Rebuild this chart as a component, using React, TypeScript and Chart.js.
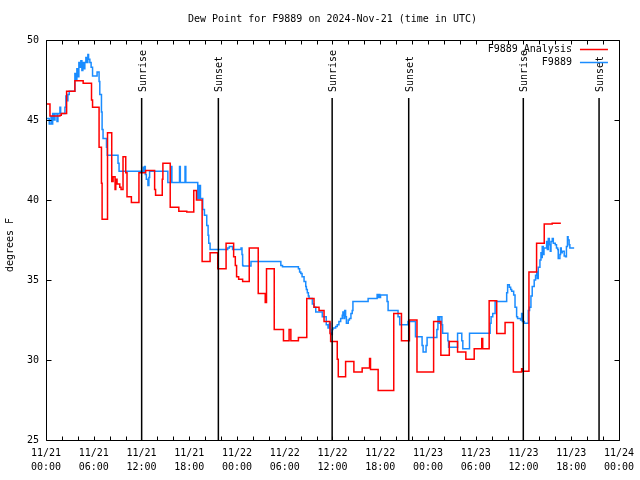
import React, { useEffect, useRef } from 'react';
import { Chart, registerables } from 'chart.js';

Chart.register(...registerables);

const TITLE = 'Dew Point for F9889 on 2024-Nov-21 (time in UTC)';
const Y_LABEL = 'degrees F';
const ANALYSIS_LABEL = 'F9889 Analysis';
const OBS_LABEL = 'F9889';

// x axis: hours since 11/21 00:00 UTC
const X_MIN = 0;
const X_MAX = 72;
const X_LABEL_STEP = 6;
const X_MINOR_STEP = 2;
const Y_MIN = 25;
const Y_MAX = 50;
const Y_STEP = 5;
const START_DAY = 21;
const MONTH = 11;

const sunriseHours = [12.02, 35.96, 59.98];
const sunsetHours = [21.66, 45.58, 69.5];

const redHours = [0, 0.5, 1.75, 1.92, 2.59, 3.63, 4.67, 5.72, 5.85, 6.67, 6.97, 7.05, 7.73, 8.26, 8.43, 8.68, 8.77, 8.93, 9.27, 9.43, 9.68, 10.02, 10.18, 10.73, 11.68, 12.52, 13.65, 13.77, 14.61, 14.69, 15.61, 16.69, 17.69, 18.57, 18.91, 19.62, 20.62, 21.58, 22.63, 23.58, 23.79, 23.95, 24.21, 24.71, 25.54, 26.67, 27.55, 27.71, 28.68, 29.84, 30.55, 30.77, 31.72, 32.77, 33.68, 34.31, 34.94, 35.69, 35.77, 36.6, 36.73, 37.65, 38.69, 39.73, 40.66, 40.78, 41.74, 43.7, 44.67, 45.67, 46.62, 48.71, 49.62, 50.68, 51.72, 52.76, 53.81, 54.76, 54.88, 55.69, 56.64, 57.69, 58.73, 59.77, 59.86, 60.69, 61.65, 62.61, 63.61, 64.7];
const redValues = [46.0, 45.25, 45.3, 45.4, 46.8, 47.45, 47.3, 46.25, 45.8, 43.3, 41.05, 38.8, 44.2, 41.15, 41.45, 40.65, 41.3, 41.0, 40.8, 40.65, 42.7, 41.7, 40.2, 39.85, 41.7, 41.85, 40.65, 40.3, 41.3, 42.3, 39.55, 39.3, 39.25, 40.6, 40.0, 36.15, 36.7, 35.7, 37.3, 36.45, 35.9, 35.2, 35.05, 34.9, 37.0, 34.15, 33.6, 35.7, 31.9, 31.2, 31.9, 31.2, 31.4, 33.85, 33.3, 33.1, 32.4, 31.65, 31.15, 30.05, 28.95, 29.9, 29.25, 29.5, 30.1, 29.4, 28.1, 32.9, 31.2, 32.5, 29.25, 32.4, 30.3, 31.15, 30.5, 30.05, 30.7, 31.35, 30.7, 33.7, 31.65, 32.35, 29.25, 29.45, 29.3, 35.5, 37.3, 38.5, 38.55, 38.55];

const blueHours = [0, 0.41, 0.63, 0.71, 0.84, 1.0, 1.13, 1.38, 1.5, 1.75, 1.84, 2.38, 2.5, 2.63, 2.75, 2.92, 3.63, 3.76, 3.88, 4.04, 4.13, 4.26, 4.38, 4.51, 4.63, 4.76, 4.88, 5.01, 5.13, 5.26, 5.35, 5.51, 5.67, 5.85, 6.42, 6.67, 6.76, 6.97, 7.05, 7.17, 7.6, 7.7, 9.05, 9.18, 12.21, 12.27, 12.4, 12.48, 12.61, 12.81, 12.93, 13.02, 15.31, 15.71, 15.82, 16.78, 16.88, 17.47, 17.57, 19.07, 19.16, 19.25, 19.32, 19.41, 19.7, 19.91, 20.2, 20.37, 20.45, 20.62, 22.83, 23.04, 23.45, 24.51, 24.63, 24.71, 24.79, 25.76, 29.51, 29.72, 31.72, 31.87, 32.02, 32.18, 32.43, 32.64, 32.72, 32.84, 32.97, 33.06, 33.47, 33.68, 33.9, 34.72, 35.22, 35.44, 35.62, 35.75, 35.9, 35.98, 36.06, 36.4, 36.6, 36.81, 37.03, 37.23, 37.31, 37.44, 37.53, 37.65, 37.75, 37.98, 38.13, 38.32, 38.48, 38.57, 40.48, 41.61, 41.7, 41.82, 41.95, 42.04, 42.86, 42.99, 44.24, 44.45, 45.49, 46.43, 47.26, 47.39, 47.76, 47.89, 49.12, 49.25, 49.4, 49.5, 49.75, 49.84, 50.5, 50.59, 51.72, 52.25, 52.38, 53.22, 55.81, 55.93, 56.14, 56.44, 57.89, 58.01, 58.23, 58.39, 58.52, 58.77, 58.94, 59.14, 59.26, 59.64, 59.77, 59.86, 60.11, 60.61, 60.77, 60.94, 61.1, 61.35, 61.52, 61.67, 61.73, 61.86, 62.07, 62.2, 62.27, 62.36, 62.49, 62.58, 62.91, 63.0, 63.12, 63.25, 63.37, 63.46, 63.62, 63.75, 64.0, 64.15, 64.3, 64.37, 64.58, 64.66, 64.75, 64.87, 65.12, 65.28, 65.4, 65.53, 65.61, 65.74, 65.83, 66.37];
const blueValues = [45.1, 44.75, 45.2, 44.75, 45.4, 45.0, 45.4, 44.9, 45.4, 45.8, 45.4, 45.8, 46.5, 46.2, 46.6, 46.8, 47.9, 47.5, 48.2, 47.7, 48.6, 48.3, 48.7, 48.1, 48.6, 48.2, 48.6, 48.9, 48.6, 49.1, 48.8, 48.6, 48.3, 47.75, 48.0, 47.4, 46.6, 45.5, 44.4, 43.85, 43.3, 42.8, 42.3, 41.8, 42.05, 41.8, 42.1, 41.6, 41.3, 40.9, 41.4, 41.8, 41.1, 42.1, 41.1, 42.1, 41.1, 42.1, 41.1, 40.1, 40.9, 40.1, 40.9, 40.1, 39.4, 39.05, 38.4, 37.8, 37.3, 36.9, 37.0, 37.1, 36.9, 37.0, 36.6, 35.9, 35.875, 36.15, 35.9, 35.83, 35.7, 35.5, 35.4, 35.2, 34.9, 34.6, 34.4, 34.2, 34.0, 33.85, 33.5, 33.3, 33.0, 32.7, 32.2, 32.0, 32.3, 31.7, 31.6, 31.9, 32.0, 32.1, 32.2, 32.4, 32.6, 32.8, 33.0, 32.6, 33.1, 32.7, 32.3, 32.5, 32.6, 32.9, 33.1, 33.65, 33.85, 34.1, 33.9, 34.1, 33.9, 34.06, 33.65, 33.1, 32.7, 32.2, 32.4, 31.46, 30.9, 30.5, 30.9, 31.4, 31.9, 32.7, 32.3, 32.7, 32.2, 31.67, 31.2, 30.8, 31.67, 31.2, 30.7, 31.67, 32.3, 32.7, 32.9, 33.65, 34.2, 34.7, 34.55, 34.4, 34.3, 34.06, 33.3, 32.7, 32.6, 32.5, 32.9, 32.4, 32.3, 33.1, 33.3, 34.0, 34.6, 35.0, 35.3, 35.5, 35.1, 35.8, 36.25, 36.7, 36.4, 37.1, 36.6, 37.0, 37.4, 36.9, 37.6, 37.2, 36.8, 37.4, 37.6, 37.3, 37.2, 37.0, 36.9, 36.35, 36.6, 37.0, 36.7, 36.8, 36.5, 36.45, 37.1, 37.7, 37.5, 37.2, 37.0, 37.0];

const RED = '#ff0000';
const BLUE = '#1a8cff';
const FONT_FAMILY = '"DejaVu Sans Mono", monospace';
const FONT = `10px ${FONT_FAMILY}`;

function toPoints(xs: number[], ys: number[]) {
  return xs.map((x, i) => ({ x, y: ys[i] }));
}

function tickLabel(value: number): string[] {
  const day = Math.floor(value / 24);
  const hour = Math.round(value - day * 24);
  return [`${MONTH}/${START_DAY + day}`, `${String(hour).padStart(2, '0')}:00`];
}

const decorPlugin = {
  id: 'gnuplotDecor',
  afterDatasetsDraw(chart: any) {
    const { ctx, chartArea: a } = chart;
    const xs = chart.scales.x;
    const ys = chart.scales.y;
    const L = Math.round(a.left) + 0.5;
    const R = Math.round(a.right) + 0.5;
    const T = Math.round(a.top) + 0.5;
    const B = Math.round(a.bottom) + 0.5;
    ctx.save();
    ctx.strokeStyle = '#000';
    ctx.fillStyle = '#000';
    ctx.lineWidth = 1;
    ctx.beginPath();
    ctx.rect(L, T, R - L, B - T);
    for (let h = X_MIN; h <= X_MAX; h += X_MINOR_STEP) {
      const px = Math.round(xs.getPixelForValue(h)) + 0.5;
      ctx.moveTo(px, B);
      ctx.lineTo(px, B - 4);
      ctx.moveTo(px, T);
      ctx.lineTo(px, T + 4);
    }
    for (let v = Y_MIN; v <= Y_MAX; v += Y_STEP) {
      const py = Math.round(ys.getPixelForValue(v)) + 0.5;
      ctx.moveTo(L, py);
      ctx.lineTo(L + 5, py);
      ctx.moveTo(R, py);
      ctx.lineTo(R - 5, py);
    }
    ctx.stroke();

    // sunrise / sunset markers
    ctx.font = FONT;
    ctx.lineWidth = 1.5;
    const events: [number, string][] = [
      ...sunriseHours.map((h) => [h, 'Sunrise'] as [number, string]),
      ...sunsetHours.map((h) => [h, 'Sunset'] as [number, string]),
    ];
    for (const [h, label] of events) {
      const px = xs.getPixelForValue(h);
      ctx.beginPath();
      ctx.moveTo(px, a.top + 58);
      ctx.lineTo(px, a.bottom);
      ctx.stroke();
      ctx.save();
      ctx.translate(px + 1.5, a.top + 52);
      ctx.rotate(-Math.PI / 2);
      ctx.textAlign = 'left';
      ctx.textBaseline = 'middle';
      ctx.fillText(label, 0, 0);
      ctx.restore();
    }

    // legend
    ctx.lineWidth = 1.5;
    chart.data.datasets.forEach((ds: any, i: number) => {
      const y = a.top + 9.5 + i * 13;
      ctx.fillStyle = '#000';
      ctx.textAlign = 'right';
      ctx.textBaseline = 'middle';
      ctx.fillText(ds.label, a.right - 47, y);
      ctx.strokeStyle = ds.borderColor;
      ctx.beginPath();
      ctx.moveTo(a.right - 39, y);
      ctx.lineTo(a.right - 11, y);
      ctx.stroke();
    });

    // title
    ctx.fillStyle = '#000';
    ctx.textAlign = 'center';
    ctx.textBaseline = 'middle';
    ctx.fillText(TITLE, (a.left + a.right) / 2, 19);

    // y axis label
    ctx.save();
    ctx.translate(10, 245);
    ctx.rotate(-Math.PI / 2);
    ctx.textAlign = 'center';
    ctx.textBaseline = 'middle';
    ctx.fillText(Y_LABEL, 0, 0);
    ctx.restore();

    ctx.restore();
  },
};

export default function App() {
  const canvasRef = useRef<HTMLCanvasElement | null>(null);

  useEffect(() => {
    const canvas = canvasRef.current;
    if (!canvas) return;
    const chart = new Chart(canvas, {
      type: 'line',
      data: {
        datasets: [
          {
            label: ANALYSIS_LABEL,
            data: toPoints(redHours, redValues),
            borderColor: RED,
            backgroundColor: RED,
            borderWidth: 1.5,
            pointRadius: 0,
            stepped: true,
            fill: false,
          },
          {
            label: OBS_LABEL,
            data: toPoints(blueHours, blueValues),
            borderColor: BLUE,
            backgroundColor: BLUE,
            borderWidth: 1.5,
            pointRadius: 0,
            stepped: true,
            fill: false,
          },
        ],
      },
      options: {
        animation: false,
        responsive: false,
        devicePixelRatio: 1,
        layout: { padding: { top: 40, right: 19, left: 0, bottom: 0 } },
        plugins: {
          legend: { display: false },
          title: { display: false },
          tooltip: { enabled: false },
        },
        scales: {
          x: {
            type: 'linear',
            min: X_MIN,
            max: X_MAX,
            grid: { display: false, drawTicks: false },
            border: { display: false },
            afterFit: (s: any) => {
              s.height = 40;
            },
            ticks: {
              stepSize: X_LABEL_STEP,
              autoSkip: false,
              maxRotation: 0,
              padding: 6,
              color: '#000',
              font: { family: FONT_FAMILY, size: 10, lineHeight: 1.4 },
              callback: (v: any) => tickLabel(Number(v)),
            },
          },
          y: {
            type: 'linear',
            min: Y_MIN,
            max: Y_MAX,
            grid: { display: false, drawTicks: false },
            border: { display: false },
            afterFit: (s: any) => {
              s.width = 46;
            },
            ticks: {
              stepSize: Y_STEP,
              padding: 7,
              color: '#000',
              font: { family: FONT_FAMILY, size: 10 },
            },
          },
        },
      },
      plugins: [decorPlugin],
    });
    return () => chart.destroy();
  }, []);

  return (
    <div style={{ position: 'absolute', left: 0, top: 0, width: 640, height: 480, background: '#fff' }}>
      <canvas ref={canvasRef} width={640} height={480} style={{ display: 'block', width: 640, height: 480 }} />
    </div>
  );
}
